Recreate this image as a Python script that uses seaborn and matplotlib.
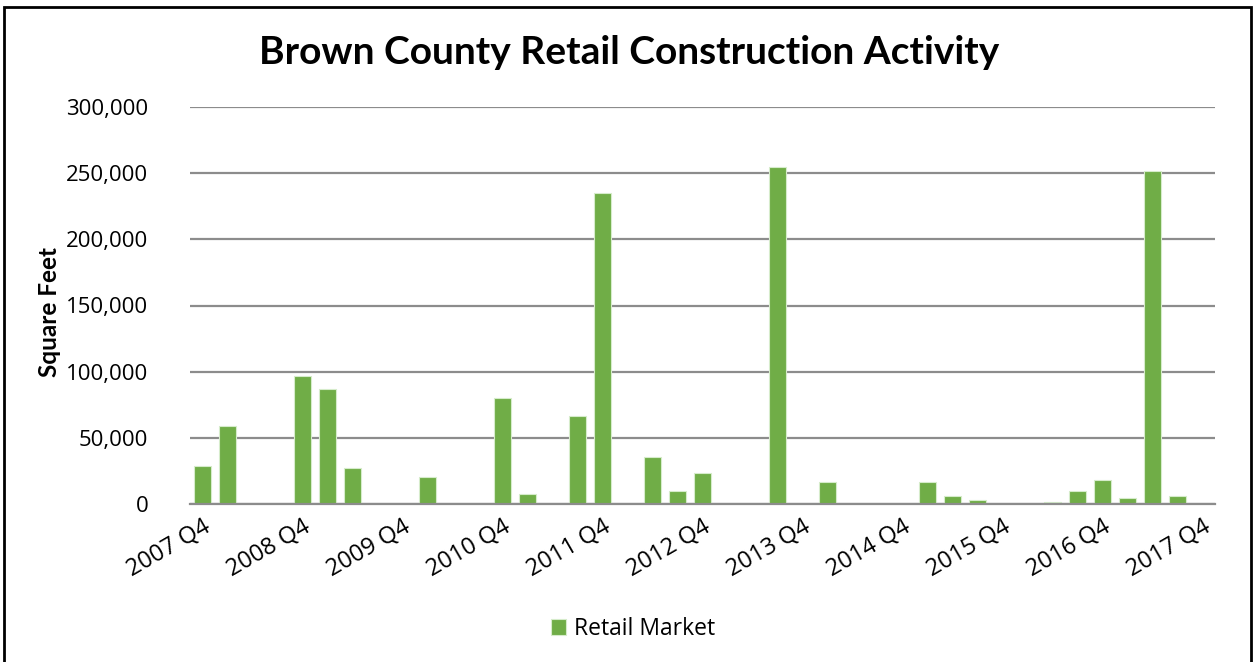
import matplotlib
matplotlib.use("Agg")
import matplotlib.pyplot as plt
import seaborn as sns
import pandas as pd
from matplotlib.patches import Rectangle
from matplotlib.ticker import FuncFormatter

quarters = [
    "2007 Q4", "2008 Q1", "2008 Q2", "2008 Q3", "2008 Q4", "2009 Q1", "2009 Q2", "2009 Q3",
    "2009 Q4", "2010 Q1", "2010 Q2", "2010 Q3", "2010 Q4", "2011 Q1", "2011 Q2", "2011 Q3",
    "2011 Q4", "2012 Q1", "2012 Q2", "2012 Q3", "2012 Q4", "2013 Q1", "2013 Q2", "2013 Q3",
    "2013 Q4", "2014 Q1", "2014 Q2", "2014 Q3", "2014 Q4", "2015 Q1", "2015 Q2", "2015 Q3",
    "2015 Q4", "2016 Q1", "2016 Q2", "2016 Q3", "2016 Q4", "2017 Q1", "2017 Q2", "2017 Q3",
    "2017 Q4",
]
retail_sqft = [
    29000, 58600, 0, 0, 96500, 86800, 27500, 0,
    0, 20700, 0, 0, 80000, 7600, 0, 66700,
    235000, 0, 35400, 10100, 23300, 0, 0, 255000,
    0, 17000, 0, 0, 0, 17000, 6100, 3300,
    0, 0, 1800, 10100, 18200, 4800, 252000, 6100,
    0,
]
y_ticks = [0, 50000, 100000, 150000, 200000, 250000, 300000]

title = "Brown County Retail Construction Activity"
series_name = "Retail Market"
y_title = "Square Feet"

sns.set_theme(style="white")
plt.rcParams["font.family"] = ["Open Sans", "DejaVu Sans"]
plt.rcParams["text.color"] = "black"

W, H = 1255, 662
fig = plt.figure(figsize=(W / 100, H / 100), dpi=100)
ax = fig.add_axes([190 / W, 1 - 504 / H, (1215 - 190) / W, (504 - 107) / H])

df = pd.DataFrame({"quarter": quarters, "sqft": retail_sqft})
green = "#70AD47"
sns.barplot(data=df, x="quarter", y="sqft", order=quarters, color=green,
            saturation=1, width=0.66, edgecolor="#d6eccb", linewidth=0.8,
            label=series_name, ax=ax, zorder=2)

ax.set_xlim(-0.5, len(quarters) - 0.5)
ax.set_ylim(0, 300000)
ax.set_yticks(y_ticks)
ax.yaxis.set_major_formatter(FuncFormatter(lambda v, p: f"{int(v):,}"))
ax.grid(axis="y", color="#8c8c8c", linewidth=1.6, zorder=0)
ax.set_axisbelow(True)
for s in ["left", "right", "top"]:
    ax.spines[s].set_visible(False)
ax.spines["bottom"].set_color("#8c8c8c")
ax.spines["bottom"].set_linewidth(1.6)
ax.tick_params(axis="y", length=0, pad=30, labelsize=16, labelcolor="black")

# category labels every 4 quarters
pos = list(range(0, len(quarters), 4))
ax.set_xticks(pos)
ax.set_xticklabels([quarters[i] for i in pos], rotation=30, ha="right",
                   rotation_mode="anchor", fontsize=17, family="Open Sans", color="black")
ax.tick_params(axis="x", which="major", length=0, pad=8)
ax.set_xticks([i - 0.5 for i in range(len(quarters) + 1)], minor=True)
ax.tick_params(axis="x", which="minor", length=7, width=1.6, color="#8c8c8c", direction="out")

ax.set_xlabel("")
ax.set_ylabel(y_title, fontsize=17.5, fontweight="bold", family="Lato", color="black")
ax.yaxis.set_label_coords((61 - 190) / (1215 - 190), (504 - 312) / (504 - 107))

fig.text((258 + 1000) / 2 / W, 1 - 52 / H, title, ha="center", va="center",
         fontsize=28, fontweight="bold", family="Lato", color="black")

leg = ax.legend(loc="center", bbox_to_anchor=((552 + 715) / 2 / W, 1 - 629 / H),
                bbox_transform=fig.transFigure,
                frameon=False, handlelength=0.65, handleheight=0.65, handletextpad=0.35,
                prop={"family": "Open Sans", "size": 16.5})
for t in leg.get_texts():
    t.set_color("black")

fig.patches.append(Rectangle((4 / W, -0.05), (1251 - 4) / W, 1.05 - 7 / H,
                             transform=fig.transFigure, fill=False,
                             edgecolor="black", linewidth=2))

fig.savefig("out.png", dpi=100)
